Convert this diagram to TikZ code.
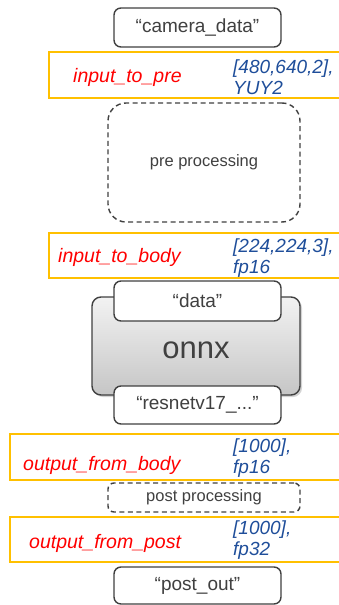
\documentclass[tikz,border=0pt]{standalone}
\usepackage{fontspec}
\setmainfont{Liberation Sans}
\usetikzlibrary{shadows}
\definecolor{dgray}{HTML}{404040}
\definecolor{ybord}{HTML}{FFC000}
\definecolor{bluet}{HTML}{1F4E9A}
\definecolor{redt}{HTML}{FF0000}
\begin{document}
\begin{tikzpicture}[x=1pt,y=-1pt,
  tensorbox/.style={draw=dgray, line width=1.4pt, fill=white, rounded corners=7pt, inner sep=0pt, text=dgray, font=\fontsize{19}{21}\selectfont},
  procbox/.style={draw=dgray, line width=1.4pt, dash pattern=on 5pt off 3.5pt, rounded corners=#1, inner sep=0pt, text=dgray, font=\fontsize{16.5}{19}\selectfont},
  ybox/.style={draw=ybord, line width=1.5pt, inner sep=0pt, anchor=north west},
  nametext/.style={text=redt, font=\fontsize{19.5}{21}\selectfont\itshape, anchor=base west, inner sep=0pt},
  shapetext/.style={text=bluet, font=\fontsize{19}{20.5}\selectfont\itshape, anchor=base west, align=left, inner sep=0pt},
  onnxbox/.style={draw=dgray, line width=1.4pt, rounded corners=9pt, top color=gray!10, bottom color=gray!45, inner sep=0pt,
    drop shadow={shadow xshift=2pt, shadow yshift=-2pt, opacity=0.35}}
]
\useasboundingbox (0,0) rectangle (339,605);

% input camera data
\node[tensorbox, minimum width=167, minimum height=39] (cam) at (197.5,27.5) {“camera\_data”};

% yellow 1
\node[ybox, minimum width=300, minimum height=46] (y1) at (48,51) {};
\node[nametext] (n1) at (73,82) {input\_to\_pre};
\node[shapetext] (s1) at (233,94) {[480,640,2],\\YUY2};

% pre processing
\node[procbox=18pt, minimum width=192, minimum height=119] (pre) at (204,162.5) {pre processing};

% yellow 2
\node[ybox, minimum width=300, minimum height=45] (y2) at (48,232) {};
\node[nametext] (n2) at (58,262) {input\_to\_body};
\node[shapetext] (s2) at (233,273) {[224,224,3],\\fp16};

% onnx
\node[onnxbox, minimum width=208, minimum height=98] (onnx) at (196,346) {};
\node[text=dgray, font=\fontsize{31}{33}\selectfont, inner sep=0pt] (onnxt) at (196,350) {onnx};
\node[tensorbox, minimum width=167, minimum height=40] (data) at (197.5,301) {“data”};
\node[tensorbox, minimum width=167, minimum height=38] (res) at (197.5,405) {“resnetv17\_...”};

% yellow 3
\node[ybox, minimum width=340, minimum height=46] (y3) at (9,433) {};
\node[nametext] (n3) at (23,470) {output\_from\_body};
\node[shapetext] (s3) at (233,473) {[1000],\\fp16};

% post processing
\node[procbox=6pt, minimum width=192, minimum height=29] (post) at (204,497.5) {post processing};

% yellow 4
\node[ybox, minimum width=340, minimum height=45] (y4) at (9,516) {};
\node[nametext] (n4) at (29,548) {output\_from\_post};
\node[shapetext] (s4) at (233,555) {[1000],\\fp32};

% output
\node[tensorbox, minimum width=167, minimum height=37] (out) at (197.5,585.5) {“post\_out”};
\end{tikzpicture}
\end{document}
